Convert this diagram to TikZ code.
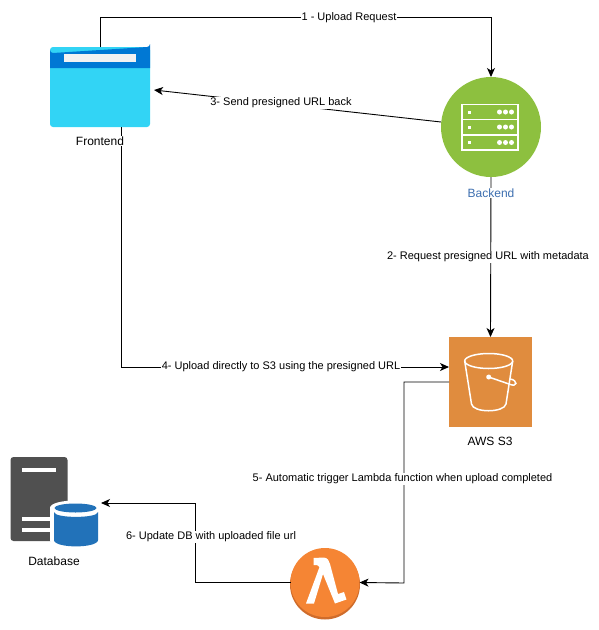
\documentclass[tikz,border=0pt]{standalone}
\usepackage{fontspec}
\setmainfont{Liberation Sans}
\usepackage{xcolor}
\usepackage{tikz}
\usetikzlibrary{arrows.meta}
\tikzstyle{box} = [rectangle, inner sep=0pt, outer sep=0pt]
\tikzstyle{disc} = [circle, inner sep=0pt, outer sep=0pt, minimum size=100pt]
\tikzstyle{nodename} = [fill=white, inner sep=1pt, font=\fontsize{12}{14}\selectfont]
\tikzstyle{steplabel} = [fill=white, inner sep=1pt, font=\fontsize{11}{13}\selectfont]
\tikzstyle{arrow} = [draw, line width=0.9pt, -{Stealth[length=9pt,width=8pt,inset=2.5pt]}]
\tikzstyle{icon} = [draw=white, line width=1.5pt]
\definecolor{fblue}{HTML}{32D4F5}
\definecolor{fdark}{HTML}{0078D4}
\definecolor{fbar}{HTML}{F2F2F2}
\definecolor{bgreen}{HTML}{8DC03F}
\definecolor{btext}{HTML}{3D6FB0}
\definecolor{sorange}{HTML}{E08C3E}
\definecolor{lorange}{HTML}{F58534}
\definecolor{lrim}{HTML}{CF6C2B}
\definecolor{dgray}{HTML}{505050}
\definecolor{dblue}{HTML}{2272B9}
\begin{document}
\begin{tikzpicture}[x=1pt, y=-1pt]
    \useasboundingbox (0,0) rectangle (598,630);

    % frontend
    \node[box, fill=fblue, rounded corners=3pt, minimum width=100pt, minimum height=80pt] at (100, 87) (frontend) {};
    \fill[fdark] (50, 68) -- (50, 50) arc[start angle=180, end angle=90, radius=3] -- (147, 47) arc[start angle=90, end angle=0, radius=3] -- (150, 68) -- cycle;
    \fill[fbar] (63.5, 53.5) rectangle (136, 61.5);

    % backend
    \node[disc, fill=bgreen] at (491, 127) (backend) {};
    \draw[icon] (462, 104.5) rectangle (518, 150);
    \draw[icon] (462, 119.5) -- (518, 119.5) (462, 135) -- (518, 135);
    \foreach \y in {112, 127, 142.5} {
        \fill[white] (467.5, \y-1.5) rectangle (470.5, \y+1.5);
        \fill[white] (499.5, \y) circle (2.5) (505.5, \y) circle (2.5) (511.5, \y) circle (2.5);
    }

    % s3 bucket
    \node[box, fill=sorange, minimum width=83pt, minimum height=90pt] at (490.5, 382) (s3) {};
    \draw[icon] (488.7, 361) ellipse [x radius=24, y radius=7.5];
    \draw[icon] (464.7, 361) -- (471.5, 404) .. controls (473, 413) and (504, 413) .. (506, 404) -- (512.7, 361);
    \fill[white] (488.7, 377) circle (2.5);
    \draw[icon] (488.7, 377) -- (509, 384) .. controls (518, 388) and (518, 380) .. (510, 379);

    % lambda
    \fill[lrim] (325, 584.5) circle (35);
    \node[disc, fill=lorange, minimum size=69pt] at (325, 582.5) (lambda) {};
    \fill[white] (313.5, 558) -- (324, 557.5) .. controls (328, 558) and (329, 561) .. (330, 564) -- (338, 594) -- (344, 592) -- (346.5, 599.5) -- (335, 603.5) -- (323, 574) -- (314, 603.5) -- (306, 603.5) -- (319.5, 567) -- (317, 565) -- (313.5, 565) -- cycle;

    % database
    \node[box, fill=dgray, rounded corners=3pt, minimum width=57pt, minimum height=84pt] at (39, 499) (server) {};
    \fill[white] (21.5, 468) rectangle (56, 472);
    \fill[white] (21.5, 517) rectangle (56, 521);
    \fill[white] (21.5, 528) rectangle (56, 532);
    \node[box, minimum width=51pt, minimum height=45pt] at (75.5, 524.5) (db) {};
    \fill[white] (50, 508) -- (50, 540) .. controls (50, 550) and (101, 550) .. (101, 540) -- (101, 508) .. controls (101, 498) and (50, 498) .. (50, 508) -- cycle;
    \fill[dblue] (54, 512) -- (54, 540) .. controls (54, 548.5) and (98, 548.5) .. (98, 540) -- (98, 512) .. controls (98, 518.5) and (54, 518.5) .. (54, 512) -- cycle;
    \fill[dblue] (75.5, 508) ellipse [x radius=21, y radius=4.5];

    % free ends
    \coordinate (back3) at (154, 90);
    \coordinate (start3) at (441, 122);
    \coordinate (dbin) at (101, 503);

    % connectors
    \path[arrow] (frontend.north) -- ++(0, -30) -| (backend.north);
    \path[arrow] (start3) -- (back3);
    \path[arrow] (backend.south) -- (s3.north);
    \path[arrow] ([xshift=21pt]frontend.south) |- ([yshift=15pt]s3.west);
    \path[arrow] (s3.west) -| (404, 583) -- (lambda.east);
    \path[arrow] (lambda.west) -| (195, 503) -- (dbin);

    % texts
    \node[nodename] at (100, 141) (frontendname) {Frontend};
    \node[nodename, text=btext] at (491, 193) (backendname) {Backend};
    \node[nodename] at (490, 441) (s3name) {AWS S3};
    \node[nodename] at (54, 561) (dbname) {Database};

    \node[steplabel] at (349, 18) (step1) {1 - Upload Request};
    \node[steplabel] at (281, 103) (step3) {3- Send presigned URL back};
    \node[steplabel] at (488, 257) (step2) {2- Request presigned URL with metadata};
    \node[steplabel] at (281, 367) (step4) {4- Upload directly to S3 using the presigned URL};
    \node[steplabel] at (402.5, 479) (step5) {5- Automatic trigger Lambda function when upload completed};
    \node[steplabel] at (211, 537) (step6) {6- Update DB with uploaded file url};
\end{tikzpicture}
\end{document}
